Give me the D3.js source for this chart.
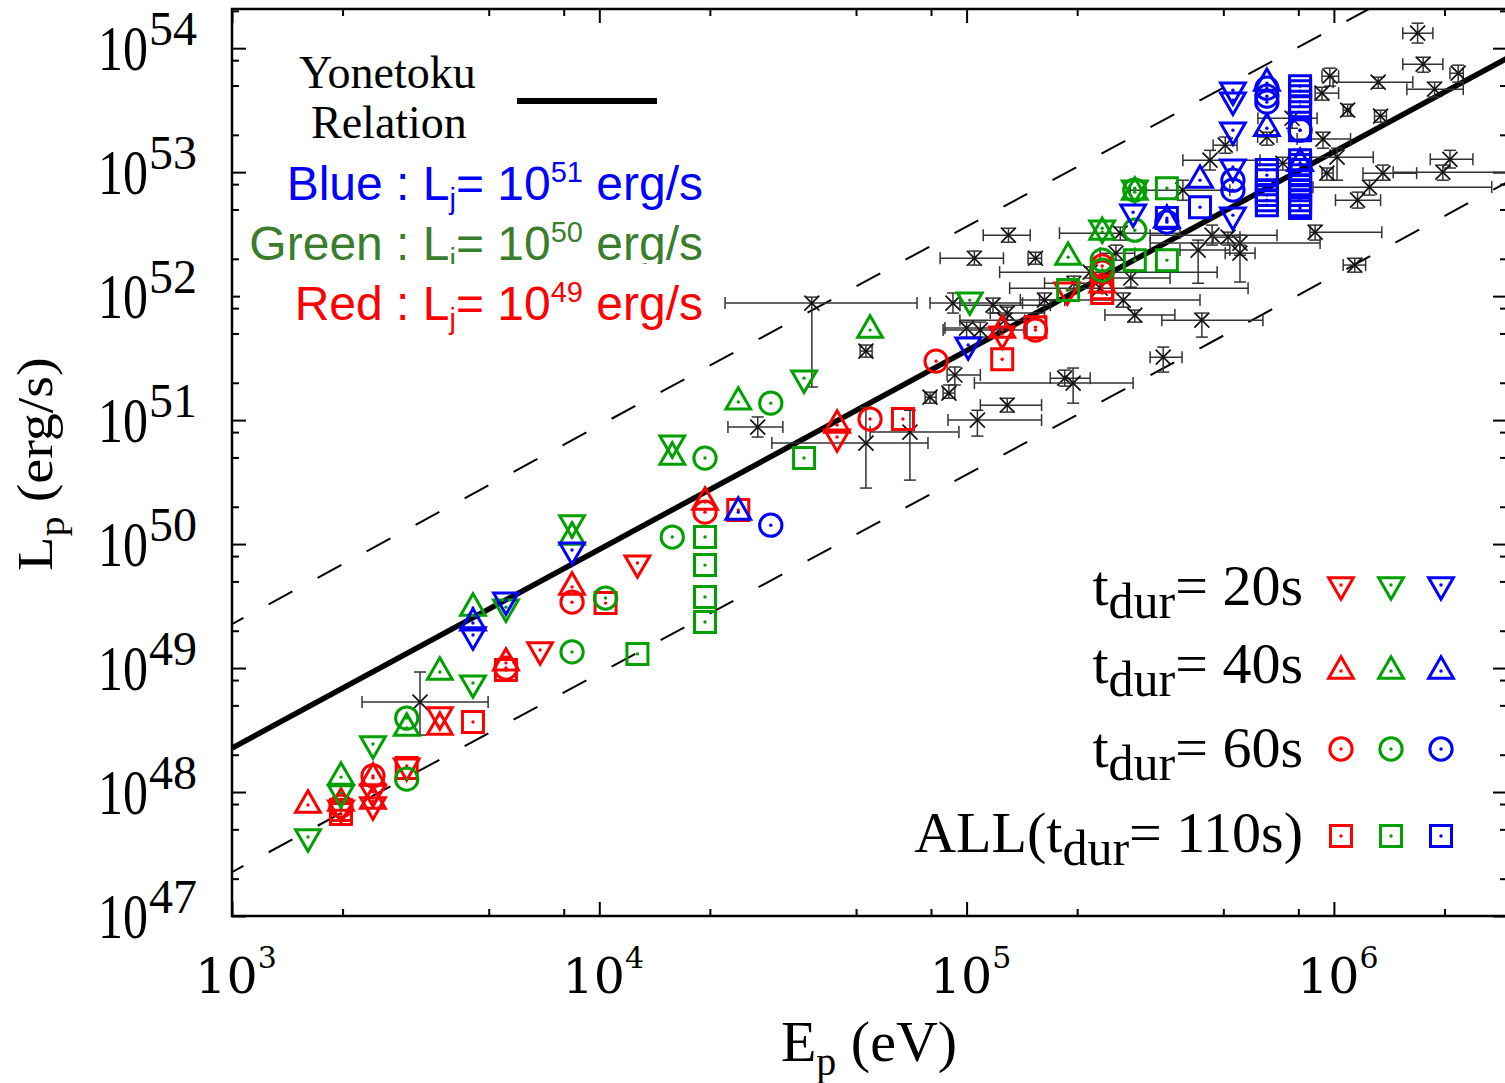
<!DOCTYPE html>
<html>
<head>
<meta charset="utf-8">
<script src="https://cdn.jsdelivr.net/npm/d3@7"></script>
<style>
  body { margin: 0; background: #fff; }
  text { white-space: pre; }
</style>
</head>
<body>
<svg id="chart" width="1505" height="1083"></svg>
<script>
// ---- data ----
// Ep in eV, Lp in erg/s

// tick values
var xMajorTicks = [1e3, 1e4, 1e5, 1e6];
var yMajorTicks = [1e47, 1e48, 1e49, 1e50, 1e51, 1e52, 1e53, 1e54];
var minorMantissa = [2, 5, 8];

// Yonetoku relation (solid) and its +-1 dex band (dashed), endpoints
var yonetokuLine = [[1e3, 2.26e48], [2.96e6, 8.3e53]];
var upperBand = [[1e3, 2.26e49], [2.96e6, 8.3e54]];
var lowerBand = [[1e3, 2.26e47], [2.96e6, 8.3e52]];

// observed GRBs: [Ep, EpLow, EpHigh, Lp, LpLow, LpHigh]
var observed = [
  [1.69e6, 1.54e6, 1.86e6, 1.32e54, 1.10e54, 1.59e54],
  [1.75e6, 1.54e6, 1.98e6, 7.43e53, 6.40e53, 8.45e53],
  [9.75e5, 9.28e5, 1.03e6, 5.94e53, 4.94e53, 6.90e53],
  [1.32e6, 9.95e5, 1.64e6, 5.32e53, 4.75e53, 5.83e53],
  [2.18e6, 2.07e6, 2.25e6, 6.28e53, 5.32e53, 7.29e53],
  [1.88e6, 1.58e6, 2.25e6, 4.67e53, 4.03e53, 5.32e53],
  [9.28e5, 8.89e5, 1.03e6, 4.34e53, 3.81e53, 4.84e53],
  [1.09e6, 1.06e6, 1.11e6, 3.16e53, 2.83e53, 3.53e53],
  [1.34e6, 1.29e6, 1.39e6, 2.83e53, 2.53e53, 3.16e53],
  [7.69e5, 6.21e5, 9.00e5, 2.72e53, 2.26e53, 3.05e53],
  [9.34e5, 7.94e5, 1.11e6, 1.85e53, 1.56e53, 2.10e53],
  [5.06e5, 4.69e5, 5.45e5, 1.65e53, 1.42e53, 1.92e53],
  [4.60e5, 3.88e5, 6.29e5, 1.25e53, 1.04e53, 1.50e53],
  [1.02e6, 8.61e5, 1.28e6, 1.32e53, 8.61e52, 1.56e53],
  [2.07e6, 1.83e6, 2.39e6, 1.27e53, 1.08e53, 1.50e53],
  [1.98e6, 1.45e6, 3.20e6, 1.00e53, 8.61e52, 1.14e53],
  [1.36e6, 1.20e6, 1.68e6, 9.82e52, 8.61e52, 1.14e53],
  [9.57e5, 9.28e5, 9.95e5, 9.82e52, 8.61e52, 1.08e53],
  [1.25e6, 8.77e5, 2.69e6, 7.57e52, 6.53e52, 8.61e52],
  [7.26e5, 7.00e5, 7.69e5, 1.18e53, 1.04e53, 1.32e53],
  [1.16e6, 1.01e6, 1.34e6, 5.94e52, 5.13e52, 6.90e52],
  [8.89e5, 8.61e5, 1.35e6, 3.28e52, 2.83e52, 3.74e52],
  [4.66e5, 3.16e5, 7.00e5, 3.10e52, 2.58e52, 3.74e52],
  [5.55e5, 3.16e5, 9.17e5, 2.68e52, 2.14e52, 3.10e52],
  [4.27e5, 3.81e5, 5.21e5, 2.35e52, 1.27e52, 2.83e52],
  [5.15e5, 4.69e5, 5.55e5, 2.99e52, 2.58e52, 3.28e52],
  [1.14e6, 1.06e6, 1.22e6, 1.78e52, 1.56e52, 2.02e52],
  [4.37e5, 3.40e5, 6.41e5, 6.40e51, 4.67e51, 7.30e51],
  [3.43e5, 3.16e5, 3.86e5, 3.22e51, 2.44e51, 3.88e51],
  [1.30e5, 1.11e5, 1.49e5, 3.10e52, 2.72e52, 3.53e52],
  [1.05e5, 8.47e4, 1.26e5, 2.02e52, 1.78e52, 2.31e52],
  [1.54e5, 1.47e5, 1.60e5, 2.02e52, 1.81e52, 2.26e52],
  [3.88e5, 2.79e5, 5.21e5, 7.16e52, 5.94e52, 8.61e52],
  [2.62e5, 1.79e5, 3.81e5, 3.22e52, 2.83e52, 3.60e52],
  [3.79e4, 2.20e4, 7.33e4, 8.79e51, 1.85e51, 9.82e51],
  [5.32e4, 5.13e4, 5.53e4, 3.60e51, 3.22e51, 4.03e51],
  [9.18e4, 7.95e4, 1.42e5, 8.79e51, 7.30e51, 1.06e52],
  [1.18e5, 9.59e4, 1.69e5, 8.45e51, 7.30e51, 9.64e51],
  [1.29e5, 1.16e5, 1.63e5, 7.30e51, 6.40e51, 8.15e51],
  [1.00e5, 8.73e4, 1.23e5, 5.52e51, 4.67e51, 6.17e51],
  [1.09e5, 8.63e4, 1.46e5, 5.32e51, 4.67e51, 6.17e51],
  [2.67e5, 1.58e5, 4.32e5, 9.29e51, 8.15e51, 1.06e52],
  [2.87e5, 2.38e5, 3.69e5, 7.03e51, 6.17e51, 7.71e51],
  [9.29e4, 8.85e4, 1.09e5, 2.31e51, 1.92e51, 2.68e51],
  [7.95e4, 7.71e4, 8.26e4, 1.53e51, 1.37e51, 1.68e51],
  [8.95e4, 8.63e4, 9.29e4, 1.65e51, 1.50e51, 1.92e51],
  [1.85e5, 1.69e5, 2.17e5, 2.18e51, 1.88e51, 2.53e51],
  [1.95e5, 1.05e5, 2.84e5, 1.99e51, 1.37e51, 2.63e51],
  [1.29e5, 1.09e5, 1.60e5, 1.32e51, 1.16e51, 1.50e51],
  [1.07e5, 8.90e4, 1.60e5, 1.00e51, 7.43e50, 1.20e51],
  [2.70e4, 2.24e4, 3.16e4, 8.79e50, 7.30e50, 1.06e51],
  [7.01e4, 5.46e4, 9.53e4, 8.00e50, 3.28e50, 1.20e51],
  [5.32e4, 2.95e4, 7.85e4, 6.53e50, 2.83e50, 1.27e51],
  [3.25e3, 2.26e3, 4.98e3, 5.32e48, 2.88e48, 9.29e48],
  [1.96e5, 1.63e5, 2.31e5, 1.27e52, 1.12e52, 1.45e52],
  [2.80e5, 2.17e5, 3.58e5, 1.40e52, 1.18e52, 1.62e52],
  [2.55e5, 2.31e5, 2.87e5, 2.22e52, 1.95e52, 2.58e52],
  [5.55e5, 5.06e5, 6.10e5, 2.22e52, 1.30e52, 2.58e52],
  [1.27e5, 9.59e4, 1.44e5, 6.40e51, 5.52e51, 7.03e51],
  [1.63e5, 1.40e5, 1.85e5, 9.29e51, 8.45e51, 1.06e52],
  [6.57e5, 6.20e5, 7.00e5, 1.92e53, 1.65e53, 2.10e53],
  [2.31e5, 1.31e5, 5.84e5, 1.16e52, 1.06e52, 1.27e52],
  [2.17e5, 1.23e5, 4.81e5, 1.56e52, 1.40e52, 1.72e52]
];

// simulations, Lj = 1e49 (red)
var red20 = [[1.98e3, 7.43e47], [2.42e3, 1.00e48], [2.42e3, 7.86e47], [2.99e3, 1.62e48], [3.68e3, 4.18e48],
  [6.90e3, 1.40e49], [1.27e4, 7.03e49], [4.44e4, 7.30e50], [1.25e5, 4.94e51], [1.88e5, 1.12e52]];
var red40 = [[1.61e3, 7.86e47], [1.98e3, 8.15e47], [2.42e3, 1.30e48], [2.42e3, 8.46e47], [3.68e3, 3.34e48],
  [5.57e3, 1.10e49], [8.43e3, 4.50e49], [1.94e4, 2.18e50], [4.44e4, 9.12e50], [1.25e5, 5.32e51], [2.34e5, 1.23e52]];
var red60 = [[1.98e3, 7.71e47], [2.42e3, 1.35e48], [5.57e3, 1.00e49], [8.43e3, 3.40e49], [1.94e4, 1.81e50],
  [5.46e4, 1.02e51], [8.26e4, 2.99e51], [1.54e5, 5.32e51], [2.34e5, 1.75e52], [2.34e5, 1.56e52]];
var red110 = [[1.98e3, 7.16e47], [1.98e3, 6.65e47], [2.99e3, 1.56e48], [4.53e3, 3.67e48], [5.57e3, 9.64e48],
  [1.04e4, 3.34e49], [2.39e4, 1.88e50], [6.71e4, 1.02e51], [1.25e5, 3.10e51], [1.54e5, 5.62e51],
  [2.34e5, 1.16e52], [2.34e5, 1.06e52]];

// Lj = 1e50 (green)
var green20 = [[1.61e3, 4.34e47], [1.98e3, 9.82e47], [2.42e3, 2.44e48], [4.53e3, 7.57e48], [5.57e3, 3.10e49],
  [8.43e3, 1.48e50], [1.58e4, 6.53e50], [3.61e4, 2.18e51], [1.02e5, 9.29e51], [2.34e5, 3.53e52], [2.87e5, 7.43e52]];
var green40 = [[1.98e3, 1.32e48], [2.99e3, 3.28e48], [3.68e3, 9.29e48], [4.53e3, 3.05e49], [8.43e3, 1.14e50],
  [1.58e4, 5.03e50], [2.39e4, 1.40e51], [5.46e4, 5.32e51], [1.89e5, 2.06e52], [2.34e5, 3.28e52], [2.87e5, 6.90e52]];
var green60 = [[2.99e3, 3.95e48], [2.99e3, 1.27e48], [8.43e3, 1.35e49], [1.04e4, 3.67e49], [1.58e4, 1.14e50],
  [1.94e4, 4.94e50], [2.93e4, 1.37e51], [2.34e5, 1.95e52], [2.34e5, 1.62e52], [2.87e5, 3.40e52], [2.87e5, 7.16e52]];
var green110 = [[1.27e4, 1.30e49], [1.94e4, 1.14e50], [1.94e4, 6.77e49], [1.94e4, 3.74e49], [1.94e4, 2.35e49],
  [3.61e4, 4.94e50], [1.89e5, 1.12e52], [2.87e5, 1.95e52], [3.51e5, 1.95e52], [3.51e5, 7.43e52]];

// Lj = 1e51 (blue)
var blue20 = [[4.53e3, 1.85e49], [5.57e3, 3.53e49], [8.43e3, 8.95e49], [1.01e5, 4.03e51], [2.84e5, 4.75e52],
  [5.31e5, 4.58e53], [5.31e5, 3.81e53], [5.31e5, 2.18e53], [5.31e5, 1.10e53], [5.31e5, 4.50e52]];
var blue40 = [[4.53e3, 2.31e49], [2.39e4, 1.81e50], [3.51e5, 4.10e52], [4.32e5, 8.61e52], [6.57e5, 5.22e53],
  [6.57e5, 2.26e53], [8.09e5, 1.18e53]];
var blue60 = [[2.93e4, 1.42e50], [3.51e5, 3.95e52], [5.31e5, 8.61e52], [5.31e5, 7.16e52], [6.57e5, 4.75e53],
  [6.57e5, 4.10e53], [6.57e5, 3.67e53], [8.09e5, 2.18e53]];
var blue110 = [[3.51e5, 4.26e52], [4.32e5, 5.22e52], [6.57e5, 1.04e53], [6.57e5, 9.46e52], [6.57e5, 8.61e52],
  [6.57e5, 7.16e52], [6.57e5, 6.53e52], [6.57e5, 5.94e52], [6.57e5, 5.42e52],
  [8.09e5, 4.94e53], [8.09e5, 4.50e53], [8.09e5, 4.10e53], [8.09e5, 3.70e53], [8.09e5, 3.40e53],
  [8.09e5, 2.18e53], [8.09e5, 1.25e53], [8.09e5, 1.14e53], [8.09e5, 1.04e53], [8.09e5, 9.46e52],
  [8.09e5, 8.61e52], [8.09e5, 7.85e52], [8.09e5, 7.16e52], [8.09e5, 6.53e52], [8.09e5, 5.94e52],
  [8.09e5, 5.42e52], [8.09e5, 5.13e52]];

// legend texts
var durLabels = [
  {pre: 't', sub: 'dur', post: '= 20s'},
  {pre: 't', sub: 'dur', post: '= 40s'},
  {pre: 't', sub: 'dur', post: '= 60s'},
  {pre: 'ALL(t', sub: 'dur', post: '= 110s)'}
];
var ljLabels = [
  {name: 'Blue', exp: '51'},
  {name: 'Green', exp: '50'},
  {name: 'Red', exp: '49'}
];

// ---- chart ----
var colors = {red: '#ff0000', green: '#00a000', blue: '#0000ff'};
var textGreen = '#3a7d2c';
var plot = {left: 232, right: 1507, top: 9, bottom: 916};

var svg = d3.select('#chart');
svg.append('rect').attr('width', 1505).attr('height', 1083).attr('fill', '#fff');

var x = d3.scaleLog().domain([1e3, 2.96e6]).range([plot.left, plot.right]);
var y = d3.scaleLog().domain([1e47, 2.07e54]).range([plot.bottom, plot.top]);

svg.append('clipPath').attr('id', 'plotclip')
  .append('rect')
  .attr('x', plot.left).attr('y', plot.top)
  .attr('width', plot.right - plot.left).attr('height', plot.bottom - plot.top);

//minor ticks at 2,5,8 of each decade
function minorTicks(majors, domain) {
  var out = [];
  majors.forEach(function (d) {
    minorMantissa.forEach(function (m) {
      var v = d * m;
      if (v > domain[0] && v < domain[1]) out.push(v);
    });
  });
  return out;
}
var xMinor = minorTicks(xMajorTicks, x.domain());
var yMinor = minorTicks(yMajorTicks, y.domain());

//ticks pointing inwards on all four sides
function tickAxis(axisFn, scale, values, size, tr) {
  svg.append('g')
    .attr('transform', tr)
    .call(axisFn(scale).tickValues(values).tickSizeInner(-size).tickSizeOuter(0).tickFormat(''))
    .call(function (g) { g.select('.domain').remove(); })
    .call(function (g) { g.selectAll('line').attr('stroke', '#000').attr('stroke-width', 2); });
}
tickAxis(d3.axisBottom, x, xMajorTicks, 14, 'translate(0,' + plot.bottom + ')');
tickAxis(d3.axisBottom, x, xMinor, 7, 'translate(0,' + plot.bottom + ')');
tickAxis(d3.axisTop, x, xMajorTicks, 14, 'translate(0,' + plot.top + ')');
tickAxis(d3.axisTop, x, xMinor, 7, 'translate(0,' + plot.top + ')');
tickAxis(d3.axisLeft, y, yMajorTicks, 14, 'translate(' + plot.left + ',0)');
tickAxis(d3.axisLeft, y, yMinor, 7, 'translate(' + plot.left + ',0)');
tickAxis(d3.axisRight, y, yMajorTicks, 14, 'translate(' + plot.right + ',0)');
tickAxis(d3.axisRight, y, yMinor, 7, 'translate(' + plot.right + ',0)');

//frame
svg.append('rect')
  .attr('x', plot.left).attr('y', plot.top)
  .attr('width', plot.right - plot.left).attr('height', plot.bottom - plot.top)
  .attr('fill', 'none').attr('stroke', '#000').attr('stroke-width', 2.5);

//tick labels 10^n
var xLab = svg.append('g').attr('font-family', 'DejaVu Serif').attr('fill', '#000');
xMajorTicks.forEach(function (v) {
  var t = xLab.append('text')
    .attr('x', x(v) + 4).attr('y', 993)
    .attr('text-anchor', 'middle').attr('font-size', 49);
  t.append('tspan').text('10');
  t.append('tspan').attr('dy', -25).attr('font-size', 30).text(Math.round(Math.log10(v)));
});

var yLab = svg.append('g').attr('font-family', 'Liberation Serif').attr('fill', '#000');
yMajorTicks.forEach(function (v) {
  var ty = y(v);
  yLab.append('text')
    .attr('transform', 'translate(148,' + (ty + 22) + ') scale(0.78,1)')
    .attr('text-anchor', 'end').attr('font-size', 64)
    .text('10');
  yLab.append('text')
    .attr('x', 149).attr('y', ty - 3)
    .attr('font-size', 48)
    .text(Math.round(Math.log10(v)));
});

//axis titles
var xt = svg.append('text')
  .attr('x', 869).attr('y', 1061)
  .attr('text-anchor', 'middle')
  .attr('font-family', 'Liberation Serif').attr('font-size', 58);
xt.append('tspan').text('E');
xt.append('tspan').attr('dy', 14).attr('font-size', 40).text('p');
xt.append('tspan').attr('dy', -14).text(' (eV)');

var yt = svg.append('text')
  .attr('transform', 'translate(52,464) rotate(-90) scale(1.12,1)')
  .attr('text-anchor', 'middle')
  .attr('font-family', 'Liberation Serif').attr('font-size', 50);
yt.append('tspan').text('L');
yt.append('tspan').attr('dy', 12).attr('font-size', 36).text('p');
yt.append('tspan').attr('dy', -12).text(' (erg/s)');

//relation lines
var line = d3.line().x(function (d) { return x(d[0]); }).y(function (d) { return y(d[1]); });
var lines = svg.append('g').attr('clip-path', 'url(#plotclip)');
[upperBand, lowerBand].forEach(function (b) {
  lines.append('path').datum(b)
    .attr('d', line)
    .attr('fill', 'none').attr('stroke', '#000').attr('stroke-width', 2)
    .attr('stroke-dasharray', '27 28.7').attr('stroke-dashoffset', 14);
});

//observed points with error bars
var obs = svg.append('g').attr('clip-path', 'url(#plotclip)');
var cap = 6, xs = 7.5;
observed.forEach(function (d) {
  var cx = x(d[0]), cy = y(d[3]);
  var g = obs.append('g').attr('stroke', '#333').attr('stroke-width', 1.5);
  var x0 = x(d[1]), x1 = x(d[2]), y0 = y(d[4]), y1 = y(d[5]);
  g.append('line').attr('x1', x0).attr('x2', x1).attr('y1', cy).attr('y2', cy);
  g.append('line').attr('x1', x0).attr('x2', x0).attr('y1', cy - cap).attr('y2', cy + cap);
  g.append('line').attr('x1', x1).attr('x2', x1).attr('y1', cy - cap).attr('y2', cy + cap);
  g.append('line').attr('x1', cx).attr('x2', cx).attr('y1', y0).attr('y2', y1);
  g.append('line').attr('x1', cx - cap).attr('x2', cx + cap).attr('y1', y0).attr('y2', y0);
  g.append('line').attr('x1', cx - cap).attr('x2', cx + cap).attr('y1', y1).attr('y2', y1);
  g.append('path')
    .attr('d', 'M' + (cx - xs) + ',' + (cy - xs) + 'L' + (cx + xs) + ',' + (cy + xs) +
               'M' + (cx - xs) + ',' + (cy + xs) + 'L' + (cx + xs) + ',' + (cy - xs))
    .attr('stroke', '#111').attr('stroke-width', 1.7);
});

lines.append('path').datum(yonetokuLine)
  .attr('d', line)
  .attr('fill', 'none').attr('stroke', '#000').attr('stroke-width', 5.5);

//simulated points
var shapes = {
  down: {type: d3.symbolTriangle, size: 265, rot: 180},
  up: {type: d3.symbolTriangle, size: 265, rot: 0},
  circle: {type: d3.symbolCircle, size: 390, rot: 0},
  square: {type: d3.symbolSquare, size: 441, rot: 0}
};

function marker(parent, px, py, shape, color) {
  var s = shapes[shape];
  var g = parent.append('g').attr('transform', 'translate(' + px + ',' + py + ')');
  g.append('path')
    .attr('d', d3.symbol(s.type, s.size)())
    .attr('transform', 'rotate(' + s.rot + ')')
    .attr('fill', 'none').attr('stroke', color).attr('stroke-width', 3);
  g.append('circle').attr('r', 1.7).attr('fill', color);
}

var simSeries = [
  {data: red20, shape: 'down', color: colors.red},
  {data: red40, shape: 'up', color: colors.red},
  {data: red60, shape: 'circle', color: colors.red},
  {data: red110, shape: 'square', color: colors.red},
  {data: green20, shape: 'down', color: colors.green},
  {data: green40, shape: 'up', color: colors.green},
  {data: green60, shape: 'circle', color: colors.green},
  {data: green110, shape: 'square', color: colors.green},
  {data: blue20, shape: 'down', color: colors.blue},
  {data: blue40, shape: 'up', color: colors.blue},
  {data: blue60, shape: 'circle', color: colors.blue},
  {data: blue110, shape: 'square', color: colors.blue}
];
var sim = svg.append('g').attr('clip-path', 'url(#plotclip)');
simSeries.forEach(function (s) {
  s.data.forEach(function (d) { marker(sim, x(d[0]), y(d[1]), s.shape, s.color); });
});

//legend top-left: Yonetoku relation
var leg = svg.append('g').attr('font-family', 'Liberation Serif').attr('font-size', 46);
leg.append('text').attr('x', 299).attr('y', 88).text('Yonetoku');
leg.append('text').attr('x', 311).attr('y', 138).text('Relation');
leg.append('line').attr('x1', 517).attr('x2', 657).attr('y1', 101).attr('y2', 101)
  .attr('stroke', '#000').attr('stroke-width', 6);

//legend: jet luminosities
var ljColors = [colors.blue, textGreen, colors.red];
var ljBase = [200, 260, 320];
ljLabels.forEach(function (d, i) {
  if (i === 2) {
    //red label sits on a white box that hides the green descenders
    svg.append('rect').attr('x', 240).attr('y', 264).attr('width', 468).attr('height', 70).attr('fill', '#fff');
  }
  var t = svg.append('text')
    .attr('x', 703).attr('y', ljBase[i])
    .attr('text-anchor', 'end')
    .attr('font-family', 'Liberation Sans').attr('font-size', 48)
    .attr('fill', ljColors[i]);
  t.append('tspan').text(d.name + ' : L');
  t.append('tspan').attr('dy', 9).attr('font-size', 29).text('j');
  t.append('tspan').attr('dy', -9).text('= 10');
  t.append('tspan').attr('dy', -18).attr('font-size', 29).text(d.exp);
  t.append('tspan').attr('dy', 18).text(' erg/s');
});

//legend bottom-right: durations
var durShapes = ['down', 'up', 'circle', 'square'];
var durBase = [605, 683, 767, 852];
var durMarkerY = [585, 671, 749, 836];
var colX = [1341, 1391, 1441];
durLabels.forEach(function (d, i) {
  var t = svg.append('text')
    .attr('x', 1303).attr('y', durBase[i])
    .attr('text-anchor', 'end')
    .attr('font-family', 'Liberation Serif').attr('font-size', 58);
  t.append('tspan').text(d.pre);
  t.append('tspan').attr('dy', 13).attr('font-size', 50).text(d.sub);
  t.append('tspan').attr('dy', -13).text(d.post);
  [colors.red, colors.green, colors.blue].forEach(function (c, j) {
    marker(svg, colX[j], durMarkerY[i], durShapes[i], c);
  });
});
</script>
</body>
</html>
